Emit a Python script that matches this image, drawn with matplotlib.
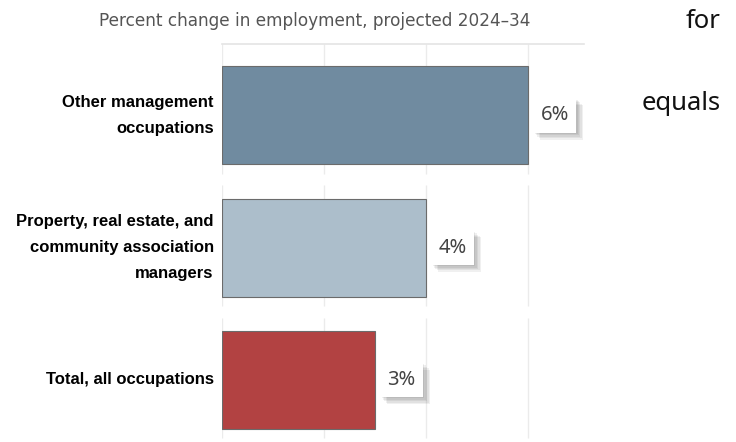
import matplotlib

matplotlib.use("Agg")
import matplotlib.pyplot as plt
import matplotlib.patheffects as pe

categories = [
    "Other management\noccupations",
    "Property, real estate, and\ncommunity association\nmanagers",
    "Total, all occupations",
]
pct_change = [6, 4, 3]
bar_colors = ["#708ba0", "#acbecb", "#b24242"]
title = "Percent change in employment, projected 2024\u201334"

fig = plt.figure(figsize=(7.36, 4.42), dpi=100)
ax = fig.add_axes([222 / 736, 0.0, (584 - 222) / 736, (442 - 44) / 442])

ypos = list(range(len(categories)))
ax.barh(ypos, pct_change, height=0.74, color=bar_colors,
        edgecolor="#6b6b6b", linewidth=0.8, zorder=3)

# grid lines broken between category bands
for i in ypos:
    top = -0.54 if i == 0 else i - 0.47
    ax.vlines([0, 2, 4, 6], top, i + 0.44, color="#ebebeb", lw=1, zorder=1)

ax.set_xlim(0, (584 - 222) / 51)
ax.set_ylim(2.47, -0.54)
ax.set_xticks([])
ax.set_yticks(ypos)
ax.set_yticklabels(categories, fontsize=12, fontweight="bold",
                   family="Liberation Sans", linespacing=1.9, va="center")
ax.tick_params(axis="y", length=0, pad=6)
for s in ("left", "right", "bottom"):
    ax.spines[s].set_visible(False)
ax.spines["top"].set_color("#e4e4e4")
ax.spines["top"].set_linewidth(1.2)

# soft drop shadow built from a few faint offset copies
shadow = [pe.SimplePatchShadow(offset=(d, -d), shadow_rgbFace="#000000", alpha=0.06)
          for d in (5, 4, 3, 2, 1)] + [pe.Normal()]
for y, v in zip(ypos, pct_change):
    t = ax.annotate(f"{v}%", (v, y), xytext=(9, 0), textcoords="offset points",
                    ha="left", va="center", fontsize=14.5, color="#444444",
                    family="Noto Sans", zorder=5,
                    bbox=dict(boxstyle="square,pad=0.36", fc="white", ec="none"))
    t.get_bbox_patch().set_path_effects(shadow)

fig.text(315 / 736, 1 - 21 / 442, title, ha="center", va="center",
         fontsize=12.2, color="#555555", family="DejaVu Sans")
fig.text(721 / 736, 1 - 21 / 442, "for", ha="right", va="center",
         fontsize=18.5, color="#111111", family="Noto Sans")
fig.text(721 / 736, 1 - 104 / 442, "equals", ha="right", va="center",
         fontsize=18.5, color="#111111", family="Noto Sans")

fig.savefig("out.png", dpi=100)
